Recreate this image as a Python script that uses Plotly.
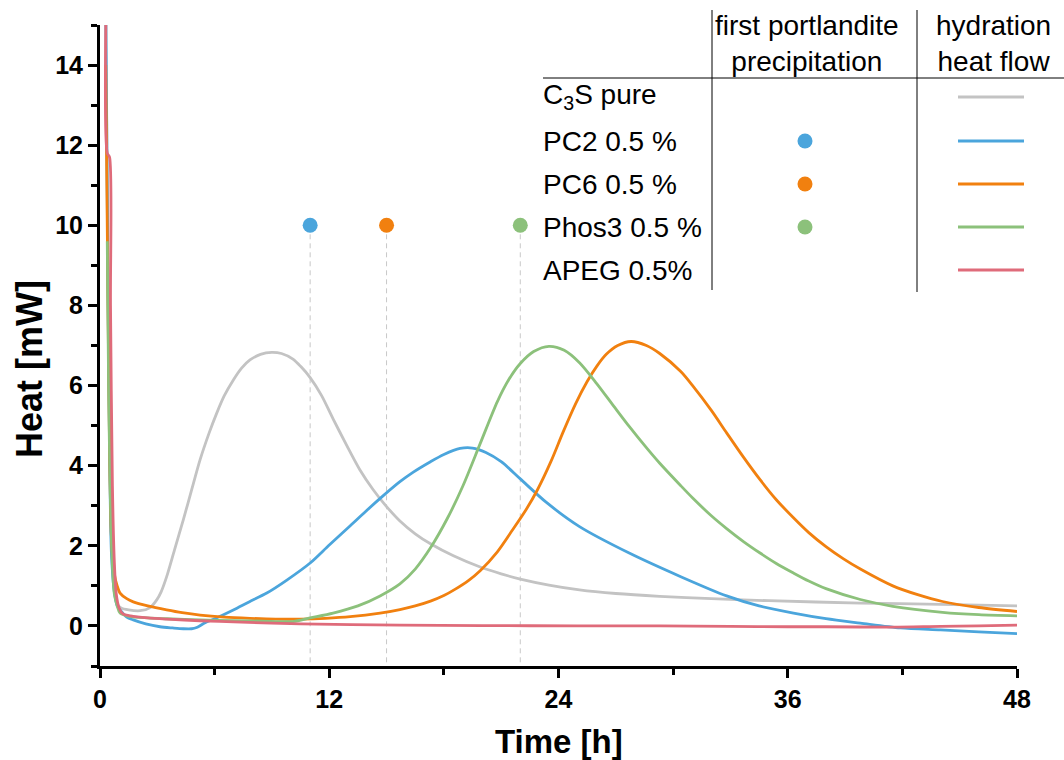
import plotly.graph_objects as go

# ---------------- data ----------------
c3s_time = [0.3, 0.4, 0.5, 0.6, 0.75, 0.9, 1.1, 1.5, 2.1, 2.6, 2.97, 3.2, 3.49, 3.9, 4.36, 4.8,
            5.24, 5.7, 6.1, 6.5, 6.98, 7.4, 7.85, 8.4, 8.99, 9.5, 10.1, 10.5, 11.0, 11.6, 12.2,
            12.9, 13.6, 14.3, 15.0, 15.7, 16.5, 17.3, 18.5, 19.9, 21.0, 22.0, 23.5, 25.1, 27.0,
            29.3, 32.0, 35.0, 39.8, 44.0, 48.0]
c3s_heat = [15.5, 10.0, 5.0, 2.2, 0.9, 0.55, 0.45, 0.4, 0.38, 0.45, 0.65, 0.85, 1.23, 1.9, 2.65,
            3.4, 4.15, 4.8, 5.3, 5.74, 6.14, 6.43, 6.64, 6.78, 6.83, 6.8, 6.66, 6.48, 6.2, 5.75,
            5.17, 4.52, 3.9, 3.4, 2.98, 2.62, 2.3, 2.05, 1.75, 1.47, 1.3, 1.17, 1.02, 0.9, 0.81,
            0.74, 0.68, 0.63, 0.57, 0.54, 0.5]

pc2_time = [0.3, 0.4, 0.5, 0.6, 0.75, 0.9, 1.05, 1.4, 1.74, 2.4, 3.14, 3.8, 4.36, 4.8, 5.06, 5.5,
            6.0, 6.98, 7.8, 8.73, 9.8, 11.0, 12.0, 13.1, 14.0, 14.8, 15.7, 16.4, 17.3, 18.0, 18.85,
            19.5, 20.2, 21.0, 22.0, 23.4, 25.1, 27.7, 30.4, 32.8, 34.5, 36.3, 38.0, 39.8, 41.9,
            44.0, 46.0, 48.0]
pc2_heat = [15.5, 9.5, 4.5, 1.8, 0.85, 0.5, 0.4, 0.22, 0.15, 0.05, -0.02, -0.05, -0.07, -0.07,
            -0.04, 0.08, 0.18, 0.4, 0.6, 0.82, 1.15, 1.57, 2.02, 2.5, 2.9, 3.24, 3.6, 3.84, 4.1,
            4.28, 4.43, 4.44, 4.33, 4.1, 3.67, 3.07, 2.48, 1.82, 1.23, 0.75, 0.5, 0.32, 0.18, 0.07,
            -0.05, -0.1, -0.15, -0.19]

pc6_time = [0.3, 0.4, 0.5, 0.6, 0.75, 0.9, 1.05, 1.4, 1.74, 2.5, 3.49, 4.3, 5.24, 6.5, 7.85, 9.2,
            10.5, 11.8, 13.1, 14.66, 15.7, 16.5, 17.3, 18.0, 18.6, 19.3, 19.9, 20.8, 21.6, 22.3,
            22.9, 23.6, 24.25, 24.9, 25.5, 26.0, 26.5, 27.1, 27.8, 28.6, 29.3, 30.4, 31.05, 32.0,
            32.8, 33.7, 34.55, 35.4, 36.3, 37.1, 38.0, 38.9, 39.8, 41.5, 42.8, 44.1, 46.0, 48.0]
pc6_heat = [14.0, 9.0, 4.5, 2.2, 1.3, 1.0, 0.82, 0.68, 0.6, 0.5, 0.4, 0.33, 0.27, 0.22, 0.19, 0.17,
            0.17, 0.19, 0.23, 0.32, 0.41, 0.5, 0.62, 0.76, 0.92, 1.14, 1.38, 1.85, 2.4, 2.9, 3.4,
            4.1, 4.85, 5.55, 6.1, 6.48, 6.78, 7.0, 7.1, 7.0, 6.8, 6.35, 5.98, 5.38, 4.82, 4.2,
            3.65, 3.15, 2.7, 2.33, 1.98, 1.68, 1.42, 1.0, 0.78, 0.61, 0.46, 0.36]

phos3_time = [0.38, 0.45, 0.55, 0.65, 0.75, 0.9, 1.05, 1.5, 2.5, 3.5, 5.24, 7.0, 8.5, 10.1, 11.0,
              12.2, 13.5, 14.66, 15.7, 16.5, 17.3, 18.2, 19.0, 19.9, 20.8, 21.4, 22.0, 22.7, 23.5,
              24.3, 25.1, 26.0, 26.9, 27.7, 28.6, 29.3, 30.4, 31.05, 32.0, 32.8, 33.7, 34.55,
              35.4, 36.3, 37.1, 38.0, 39.8, 41.5, 44.1, 46.0, 48.0]
phos3_heat = [9.6, 6.0, 3.0, 1.5, 0.8, 0.5, 0.32, 0.24, 0.2, 0.18, 0.15, 0.13, 0.12, 0.11, 0.2,
              0.32, 0.5, 0.75, 1.05, 1.42, 1.95, 2.7, 3.5, 4.55, 5.6, 6.15, 6.55, 6.85, 6.98, 6.88,
              6.57, 6.05, 5.48, 4.98, 4.45, 4.06, 3.5, 3.18, 2.75, 2.43, 2.1, 1.82, 1.56, 1.32,
              1.12, 0.93, 0.66, 0.49, 0.34, 0.28, 0.25]

apeg_time = [0.33, 0.38, 0.5, 0.55, 0.65, 0.75, 0.85, 1.0, 1.2, 1.6, 2.5, 3.5, 5.24, 7.0, 10.5,
             15.7, 20.0, 25.0, 29.3, 33.0, 36.0, 38.0, 41.5, 44.0, 46.0, 48.0]
apeg_heat = [16.0, 11.8, 11.7, 8.0, 3.5, 1.6, 0.8, 0.45, 0.3, 0.25, 0.2, 0.17, 0.13, 0.1, 0.05,
             0.02, 0.01, 0.0, 0.0, -0.01, -0.02, -0.02, -0.03, -0.01, 0.0, 0.02]

series_names = ["C<sub>3</sub>S pure", "PC2 0.5 %", "PC6 0.5 %", "Phos3 0.5 %", "APEG 0.5%"]
series_colors = ["#c3c3c3", "#4ba5dc", "#f1800f", "#8cc17b", "#df6b7a"]
series_times = [c3s_time, pc2_time, pc6_time, phos3_time, apeg_time]
series_heats = [c3s_heat, pc2_heat, pc6_heat, phos3_heat, apeg_heat]

# first portlandite precipitation (h); None where not observed
portlandite_time = [None, 11.0, 15.0, 22.0, None]
portlandite_level = 10.0

x_range = [0, 48]
y_range = [-1, 15]

# ---------------- layout geometry (pixels) ----------------
W, H = 1064, 760
L, R, T, B = 100, 47, 25, 94
PW, PH = W - L - R, H - T - B
FONT = "Arial, Liberation Sans, sans-serif"


def px(xp):
    return (xp - L) / PW


def py(yp):
    return (H - B - yp) / PH


fig = go.Figure()

# dashed drop lines from the portlandite markers
for t, c in zip(portlandite_time, series_colors):
    if t is None:
        continue
    fig.add_trace(go.Scatter(x=[t, t], y=[portlandite_level, y_range[0]], mode="lines",
                             line=dict(color="#c8c8c8", width=1, dash="5px,4px"),
                             hoverinfo="skip", showlegend=False))

# heat flow curves
for name, c, t, h in zip(series_names, series_colors, series_times, series_heats):
    fig.add_trace(go.Scatter(x=t, y=h, mode="lines", name=name,
                             line=dict(color=c, width=2.8, shape="spline", smoothing=0.8),
                             showlegend=False))

# portlandite markers
for t, c in zip(portlandite_time, series_colors):
    if t is None:
        continue
    fig.add_trace(go.Scatter(x=[t], y=[portlandite_level], mode="markers",
                             marker=dict(color=c, size=15, line=dict(width=0)),
                             cliponaxis=False, showlegend=False))

# ---------------- table-style legend ----------------
shapes = []
annotations = []
label_x = 543
col_marker_x = 805
col_line_x0, col_line_x1 = 958, 1024
row_y = [97, 141, 184, 227, 270]

shapes.append(dict(type="line", xref="paper", yref="paper", x0=px(label_x), x1=px(1064),
                   y0=py(78), y1=py(78), line=dict(color="black", width=1)))
for vx, vb in [(712, 290), (917, 292)]:
    shapes.append(dict(type="line", xref="paper", yref="paper", x0=px(vx), x1=px(vx),
                       y0=py(10), y1=py(vb), line=dict(color="black", width=1)))

annotations.append(dict(text="first portlandite<br>precipitation", xref="paper", yref="paper",
                        x=px(807), y=py(43), xanchor="center", yanchor="middle",
                        showarrow=False, font=dict(family=FONT, size=28, color="black")))
annotations.append(dict(text="hydration<br>heat flow", xref="paper", yref="paper",
                        x=px(993), y=py(43), xanchor="center", yanchor="middle",
                        showarrow=False, font=dict(family=FONT, size=28, color="black")))

for name, c, t, ry in zip(series_names, series_colors, portlandite_time, row_y):
    annotations.append(dict(text=name, xref="paper", yref="paper", x=px(label_x - 2), y=py(ry),
                            xanchor="left", yanchor="middle", showarrow=False,
                            font=dict(family=FONT, size=28, color="black")))
    shapes.append(dict(type="line", xref="paper", yref="paper", x0=px(col_line_x0),
                       x1=px(col_line_x1), y0=py(ry), y1=py(ry), line=dict(color=c, width=3)))
    if t is not None:
        shapes.append(dict(type="circle", xref="paper", yref="paper",
                           xsizemode="pixel", ysizemode="pixel",
                           xanchor=px(col_marker_x), yanchor=py(ry),
                           x0=-7.5, x1=7.5, y0=-7.5, y1=7.5,
                           fillcolor=c, line=dict(width=0)))

# axis titles
annotations.append(dict(text="Time [h]", xref="paper", yref="paper", x=px(559), y=py(741),
                        xanchor="center", yanchor="middle", showarrow=False,
                        font=dict(family=FONT, size=33, color="black", weight="bold")))
annotations.append(dict(text="Heat [mW]", xref="paper", yref="paper", x=px(29), y=py(369),
                        xanchor="center", yanchor="middle", showarrow=False, textangle=-90,
                        font=dict(family=FONT, size=36, color="black", weight="bold")))

tickfont = dict(family=FONT, size=25, color="black", weight="bold")

fig.update_layout(
    width=W, height=H,
    margin=dict(l=L, r=R, t=T, b=B),
    paper_bgcolor="white", plot_bgcolor="white",
    shapes=shapes, annotations=annotations,
    xaxis=dict(range=x_range, tick0=0, dtick=12, showline=True, linecolor="black", linewidth=3,
               ticks="outside", ticklen=9, tickwidth=3, tickcolor="black", showgrid=False,
               zeroline=False, tickfont=tickfont,
               minor=dict(dtick=6, ticks="outside", ticklen=6, tickwidth=3, tickcolor="black",
                          showgrid=False)),
    yaxis=dict(range=y_range, tick0=0, dtick=2, showline=True, linecolor="black", linewidth=3,
               ticks="outside", ticklen=9, tickwidth=3, tickcolor="black", showgrid=False,
               zeroline=False, tickfont=tickfont,
               minor=dict(dtick=1, ticks="outside", ticklen=6, tickwidth=3, tickcolor="black",
                          showgrid=False)),
)

fig.write_html("out.html")
